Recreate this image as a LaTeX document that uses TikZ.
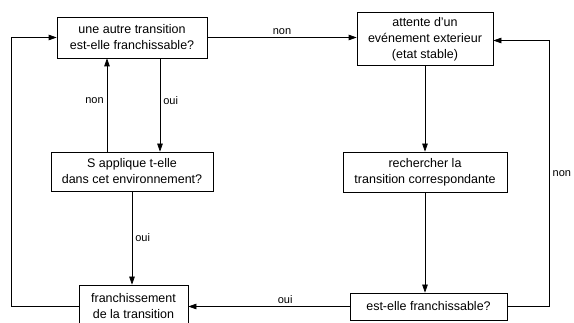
\documentclass[tikz,border=0pt]{standalone}
\usepackage{fontspec}
\setmainfont{Liberation Sans}
\usetikzlibrary{arrows.meta}
\begin{document}
\begin{tikzpicture}[x=1pt,y=-1pt,
box/.style={draw,line width=.7pt,align=center,inner sep=2pt,font=\fontsize{12.5}{16}\selectfont},
lbl/.style={font=\fontsize{11}{13}\selectfont,inner sep=3pt},
arr/.style={-{Triangle[length=8pt,width=5.5pt]},line width=.7pt}]
\useasboundingbox (0,0) rectangle (574,323);
\node[box,minimum width=150pt,minimum height=41pt](autre) at (132,37.5){une autre transition\\est-elle franchissable?};
\node[box,minimum width=136pt,minimum height=53pt](attente) at (425,39){attente d'un\\evénement exterieur\\(etat stable)};
\node[box,minimum width=162pt,minimum height=39pt](applique) at (132,171.5){S applique t-elle\\dans cet environnement?};
\node[box,minimum width=164pt,minimum height=40pt](recherche) at (425,172){rechercher la\\transition correspondante};
\node[box,minimum width=109pt,minimum height=42pt](franchit) at (133.5,306){franchissement\\de la transition};
\node[box,minimum width=157pt,minimum height=27pt](franch) at (428.5,306.5){est-elle franchissable?};
\draw[arr](autre.east)--node[above,lbl]{non}(autre.east -| attente.west);
\draw[arr]([xshift=28pt]autre.south)--node[right,lbl,pos=.45]{oui}([xshift=28pt]autre.south |- applique.north);
\draw[arr]([xshift=-25pt]applique.north)--node[left,lbl,pos=.55]{non}([xshift=-25pt]applique.north |- autre.south);
\draw[arr](applique.south)--node[right,lbl]{oui}(applique.south |- franchit.north);
\draw[arr](attente.south)--(attente.south |- recherche.north);
\draw[arr](recherche.south)--(recherche.south |- franch.north);
\draw[arr](franch.west)--node[above,lbl,pos=.4]{oui}(franch.west -| franchit.east);
\draw[arr](franch.east)--++(42,0)|-node[right,lbl,pos=.25]{non}([yshift=-1.5pt]attente.east);
\draw[arr](franchit.west)--++(-67.5,0)|-(autre.west);
\end{tikzpicture}
\end{document}
